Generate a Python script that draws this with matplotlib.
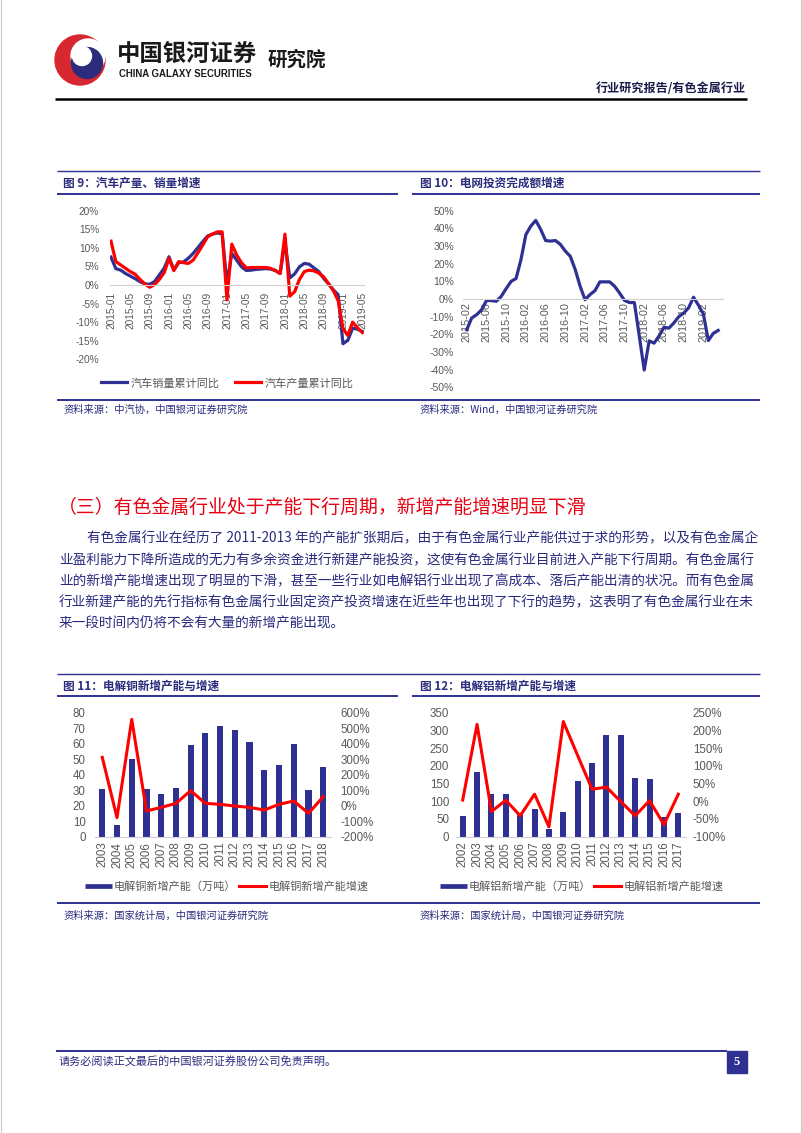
import matplotlib
matplotlib.use('Agg')
import matplotlib.pyplot as plt
from matplotlib.patches import Rectangle, Circle
from matplotlib.lines import Line2D
import numpy as np

W, H = 802, 1133
CJK = ['Noto Sans CJK SC', 'DejaVu Sans']
LAT = ['Liberation Sans', 'DejaVu Sans']
plt.rcParams['font.family'] = CJK

NAVY = '#2E3192'
TXT_NAVY = '#2B2B7E'
RED = '#FF0000'
GRAY_TXT = '#595959'
AXIS_GRAY = '#D0D0D0'

# ---------------- data ----------------
all_months = [f'{y}-{m:02d}' for y in range(2015, 2020) for m in range(1, 13)]
auto_months = all_months[:53]          # 2015-01 .. 2019-05
auto_sales = [7.5, 4.4, 4.0, 3.1, 2.4, 1.7, 0.9, 0.3, 0.2, 0.9, 2.7, 4.5,
              7.6, 4.0, 6.0, 6.2, 7.2, 8.5, 10.1, 11.7, 13.2, 13.7, 14.0, 13.8,
              0.4, 8.5, 6.7, 4.9, 3.9, 4.0, 4.2, 4.3, 4.4, 4.3, 3.9, 3.1,
              11.6, 1.9, 3.0, 4.9, 5.8, 5.6, 4.6, 3.6, 1.8, 0.3, -1.3, -2.6,
              -15.8, -14.9, -11.6, -11.9, -12.5]
auto_prod = [11.8, 6.3, 5.4, 4.5, 3.6, 2.9, 1.5, 0.3, -0.6, 0.1, 1.5, 3.3,
             7.2, 3.9, 6.3, 6.0, 5.8, 6.7, 8.7, 10.8, 13.0, 13.7, 14.3, 14.3,
             -4.0, 11.0, 8.1, 6.0, 4.6, 4.7, 4.7, 4.7, 4.7, 4.5, 3.9, 3.1,
             13.7, -3.0, -1.8, 1.5, 3.6, 4.0, 3.8, 3.2, 2.2, 0.4, -1.5, -4.2,
             -11.7, -13.6, -10.0, -11.5, -12.8]

grid_months = all_months[1:53]         # 2015-02 .. 2019-05
grid_growth = [-17.4, -10.8, -8.9, -6.1, -0.9, -0.9, -1.3, 1.5, 5.9, 10.0, 11.6, 22.3,
               36.5, 41.3, 44.5, 39.4, 33.1, 32.8, 33.1, 30.9, 27.1, 24.2, 16.7, 7.2,
               -0.4, 2.5, 4.7, 9.7, 9.7, 9.7, 7.2, 3.4, -0.8, -2.0, -2.0, -21.0,
               -40.2, -23.7, -25.0, -21.0, -16.0, -16.5, -13.6, -10.0, -8.0, -5.0, 1.0, -3.5,
               -8.5, -23.5, -19.5, -17.8]

cu_years = [str(y) for y in range(2003, 2019)]
cu_capacity = [30.8, 7.5, 50.1, 30.8, 27.5, 31.4, 59.1, 67.0, 71.5, 68.8, 61.2, 43.0,
               46.2, 59.8, 30.1, 45.2]
cu_growth = [312, -77, 557, -34, -11, 15, 97, 15, 9, -2, -11, -28, 9, 30, -49, 58]

al_years = [str(y) for y in range(2002, 2018)]
al_capacity = [58, 183, 120, 120, 61, 78, 21, 70, 157, 208, 288, 288, 166, 163, 55, 67]
al_growth = [3.5, 217, -29, 3, -41, 20, -72, 225, 129, 34, 40, -1, -41, 2, -66, 20]

# ---------------- figure ----------------
fig = plt.figure(figsize=(W / 100, H / 100), dpi=100)
page = fig.add_axes([0, 0, 1, 1])
page.set_xlim(0, W)
page.set_ylim(H, 0)
page.axis('off')


def px_axes(x0, y0, x1, y1):
    a = fig.add_axes([x0 / W, 1 - y1 / H, (x1 - x0) / W, (y1 - y0) / H])
    a.set_facecolor('none')
    return a


def hline(x0, x1, y, color=NAVY, lw=1.2):
    page.plot([x0, x1], [y, y], color=color, lw=lw, solid_capstyle='butt')


def style_ticks(a):
    for lbl in a.get_xticklabels() + a.get_yticklabels():
        lbl.set_fontfamily(LAT)
        lbl.set_color(GRAY_TXT)


# ---------------- header ----------------
page.add_patch(Circle((80, 60), 25, color='#D7282F', zorder=2))
page.add_patch(Circle((88, 56), 17, color='white', zorder=3))
page.add_patch(Circle((87, 63), 15.5, color='#2B2C7C', zorder=4))
page.add_patch(Circle((82, 56), 9.5, color='white', zorder=5))
page.text(117, 54, '中国银河证券', fontsize=16.8, fontweight='bold', color='#1a1a1a',
          va='center', ha='left')
page.text(119, 74, 'CHINA GALAXY SECURITIES', fontsize=6.9, fontweight='bold',
          family=LAT, color='#1a1a1a', va='center', ha='left')
page.text(268, 60, '研究院', fontsize=14, fontweight='bold', color='#1a1a1a',
          va='center', ha='left')
page.text(746, 89, '行业研究报告/有色金属行业', fontsize=8.7, fontweight='bold',
          color='#1b1b4b', va='center', ha='right')
hline(55, 747, 99, color='black', lw=1.8)
page.plot([0.6, 0.6], [0, H], color='#C8C8C8', lw=0.8)
page.plot([801.4, 801.4], [0, H], color='#C8C8C8', lw=0.8)

# ---------------- frames for charts 9 / 10 ----------------
hline(57, 760, 171, lw=1.0)
hline(57, 398, 194, lw=1.4)
hline(412, 760, 194, lw=1.4)
hline(57, 760, 400, lw=1.4)
page.text(63, 183, '图 9：汽车产量、销量增速', fontsize=8.4, fontweight='bold',
          color=TXT_NAVY, va='center')
page.text(420, 183, '图 10：电网投资完成额增速', fontsize=8.4, fontweight='bold',
          color=TXT_NAVY, va='center')
page.text(64, 410, '资料来源：中汽协，中国银河证券研究院', fontsize=7.4,
          color=TXT_NAVY, va='center', style='italic')
page.text(420, 410, '资料来源：Wind，中国银河证券研究院', fontsize=7.4,
          color=TXT_NAVY, va='center', style='italic')


def line_chart(box, labels, series, colors, xlim, ylim, step, pad_x, pad_y,
               xsize, ysize):
    a = px_axes(*box)
    for s in ['top', 'right', 'left']:
        a.spines[s].set_visible(False)
    a.spines['bottom'].set_position(('data', 0))
    a.spines['bottom'].set_color(AXIS_GRAY)
    x = np.arange(len(labels))
    for (vals, name), c in zip(series, colors):
        a.plot(x, vals, color=c, lw=2.3, label=name)
    a.set_xlim(*xlim)
    a.set_ylim(*ylim)
    yt = list(range(ylim[0], ylim[1] + 1, step))
    a.set_yticks(yt)
    a.set_yticklabels([f'{v}%' for v in yt])
    a.set_xticks(x[::4])
    a.set_xticklabels(labels[::4], rotation=90)
    a.tick_params(axis='x', length=0, pad=pad_x, labelsize=xsize)
    a.tick_params(axis='y', length=0, pad=pad_y, labelsize=ysize)
    style_ticks(a)
    return a


# ---------------- chart 9 ----------------
ax9 = line_chart((109.55, 210.7, 363.75, 359.3), auto_months,
                 [(auto_sales, '汽车销量累计同比'), (auto_prod, '汽车产量累计同比')],
                 [NAVY, RED], (-0.3, 52.3), (-20, 20), 5, 5, 7.5, 7.3, 7.3)
ax9.legend(loc='center', bbox_to_anchor=(227 / W, 1 - 383 / H),
           bbox_transform=fig.transFigure, ncol=2, frameon=False,
           handlelength=2.4, handletextpad=0.25, columnspacing=1.4,
           fontsize=8, labelcolor=GRAY_TXT)

# ---------------- chart 10 ----------------
ax10 = line_chart((462.8, 210.7, 723.1, 387.3), grid_months,
                  [(grid_growth, '电网投资完成额增速')], [NAVY],
                  (-0.8, 52.0), (-50, 50), 10, 2.5, 6.3, 7.8, 7.5)

# ---------------- body text ----------------
page.text(58, 507, '（三）有色金属行业处于产能下行周期，新增产能增速明显下滑',
          fontsize=13.6, color='#E60012', va='center', ha='left')
para = [
    '有色金属行业在经历了 2011-2013 年的产能扩张期后，由于有色金属行业产能供过于求的形势，以及有色金属企',
    '业盈利能力下降所造成的无力有多余资金进行新建产能投资，这使有色金属行业目前进入产能下行周期。有色金属行',
    '业的新增产能增速出现了明显的下滑，甚至一些行业如电解铝行业出现了高成本、落后产能出清的状况。而有色金属',
    '行业新建产能的先行指标有色金属行业固定资产投资增速在近些年也出现了下行的趋势，这表明了有色金属行业在未',
    '来一段时间内仍将不会有大量的新增产能出现。',
]
para_y = [538, 560, 581, 602, 623]
for i, (t, yy) in enumerate(zip(para, para_y)):
    page.text(87 if i == 0 else 59, yy, t, fontsize=9.85, color=TXT_NAVY,
              va='center', ha='left')

# ---------------- frames for charts 11 / 12 ----------------
hline(57, 760, 674, lw=1.0)
hline(57, 398, 696, lw=1.4)
hline(412, 760, 696, lw=1.4)
hline(57, 760, 903, lw=1.4)
page.text(63, 686, '图 11：电解铜新增产能与增速', fontsize=8.4, fontweight='bold',
          color=TXT_NAVY, va='center')
page.text(420, 686, '图 12：电解铝新增产能与增速', fontsize=8.4, fontweight='bold',
          color=TXT_NAVY, va='center')
page.text(64, 916, '资料来源：国家统计局，中国银河证券研究院', fontsize=7.4,
          color=TXT_NAVY, va='center', style='italic')
page.text(420, 916, '资料来源：国家统计局，中国银河证券研究院', fontsize=7.4,
          color=TXT_NAVY, va='center', style='italic')


def bar_line_chart(box, years, cap, growth, ylim_l, step_l, ylim_r, step_r,
                   pad_l, pad_r, legend_x, names):
    a = px_axes(*box)
    x = np.arange(len(years))
    a.bar(x, cap, width=0.42, color=NAVY)
    a.set_xlim(-0.5, len(years) - 0.5)
    a.set_ylim(*ylim_l)
    yl = list(range(ylim_l[0], ylim_l[1] + 1, step_l))
    a.set_yticks(yl)
    a.set_yticklabels([str(v) for v in yl])
    a.set_xticks(x)
    a.set_xticklabels(years, rotation=90)
    for s in ['top', 'right', 'left']:
        a.spines[s].set_visible(False)
    a.spines['bottom'].set_color(AXIS_GRAY)
    a.tick_params(axis='x', length=0, pad=3.6, labelsize=8.3)
    a.tick_params(axis='y', length=0, pad=pad_l, labelsize=8.3)
    style_ticks(a)
    b = a.twinx()
    b.set_facecolor('none')
    b.plot(x, growth, color=RED, lw=2.2)
    b.set_ylim(*ylim_r)
    yr = list(range(ylim_r[0], ylim_r[1] + 1, step_r))
    b.set_yticks(yr)
    b.set_yticklabels([f'{v}%' for v in yr])
    for s in b.spines.values():
        s.set_visible(False)
    b.tick_params(axis='y', length=0, pad=pad_r, labelsize=8.3)
    style_ticks(b)
    handles = [Line2D([], [], color=NAVY, lw=3.4, solid_capstyle='butt'),
               Line2D([], [], color=RED, lw=2.2)]
    b.legend(handles, names, loc='center', bbox_to_anchor=(legend_x / W, 1 - 886.7 / H),
             bbox_transform=fig.transFigure, ncol=2, frameon=False,
             handlelength=2.4, handletextpad=0.2, columnspacing=0.3,
             fontsize=8, labelcolor=GRAY_TXT)
    return a, b


bar_line_chart((94.9, 712.7, 330.6, 836.7), cu_years, cu_capacity, cu_growth,
               (0, 80), 10, (-200, 600), 100, 6.6, 7.2, 226.7,
               ['电解铜新增产能（万吨）', '电解铜新增产能增速'])
bar_line_chart((455.5, 712.7, 685.5, 836.7), al_years, al_capacity, al_growth,
               (0, 350), 50, (-100, 250), 50, 4.5, 5.2, 581.7,
               ['电解铝新增产能（万吨）', '电解铝新增产能增速'])

# ---------------- footer ----------------
hline(56, 727, 1051, lw=1.4)
page.add_patch(Rectangle((727, 1050.5), 20, 22.5, color=NAVY))
page.text(737, 1062, '5', color='white', fontsize=9, fontweight='bold',
          family=['Liberation Serif', 'DejaVu Serif'], ha='center', va='center')
page.text(59, 1062, '请务必阅读正文最后的中国银河证券股份公司免责声明。', fontsize=8,
          color=TXT_NAVY, va='center', ha='left')

fig.savefig('out.png', dpi=100)
